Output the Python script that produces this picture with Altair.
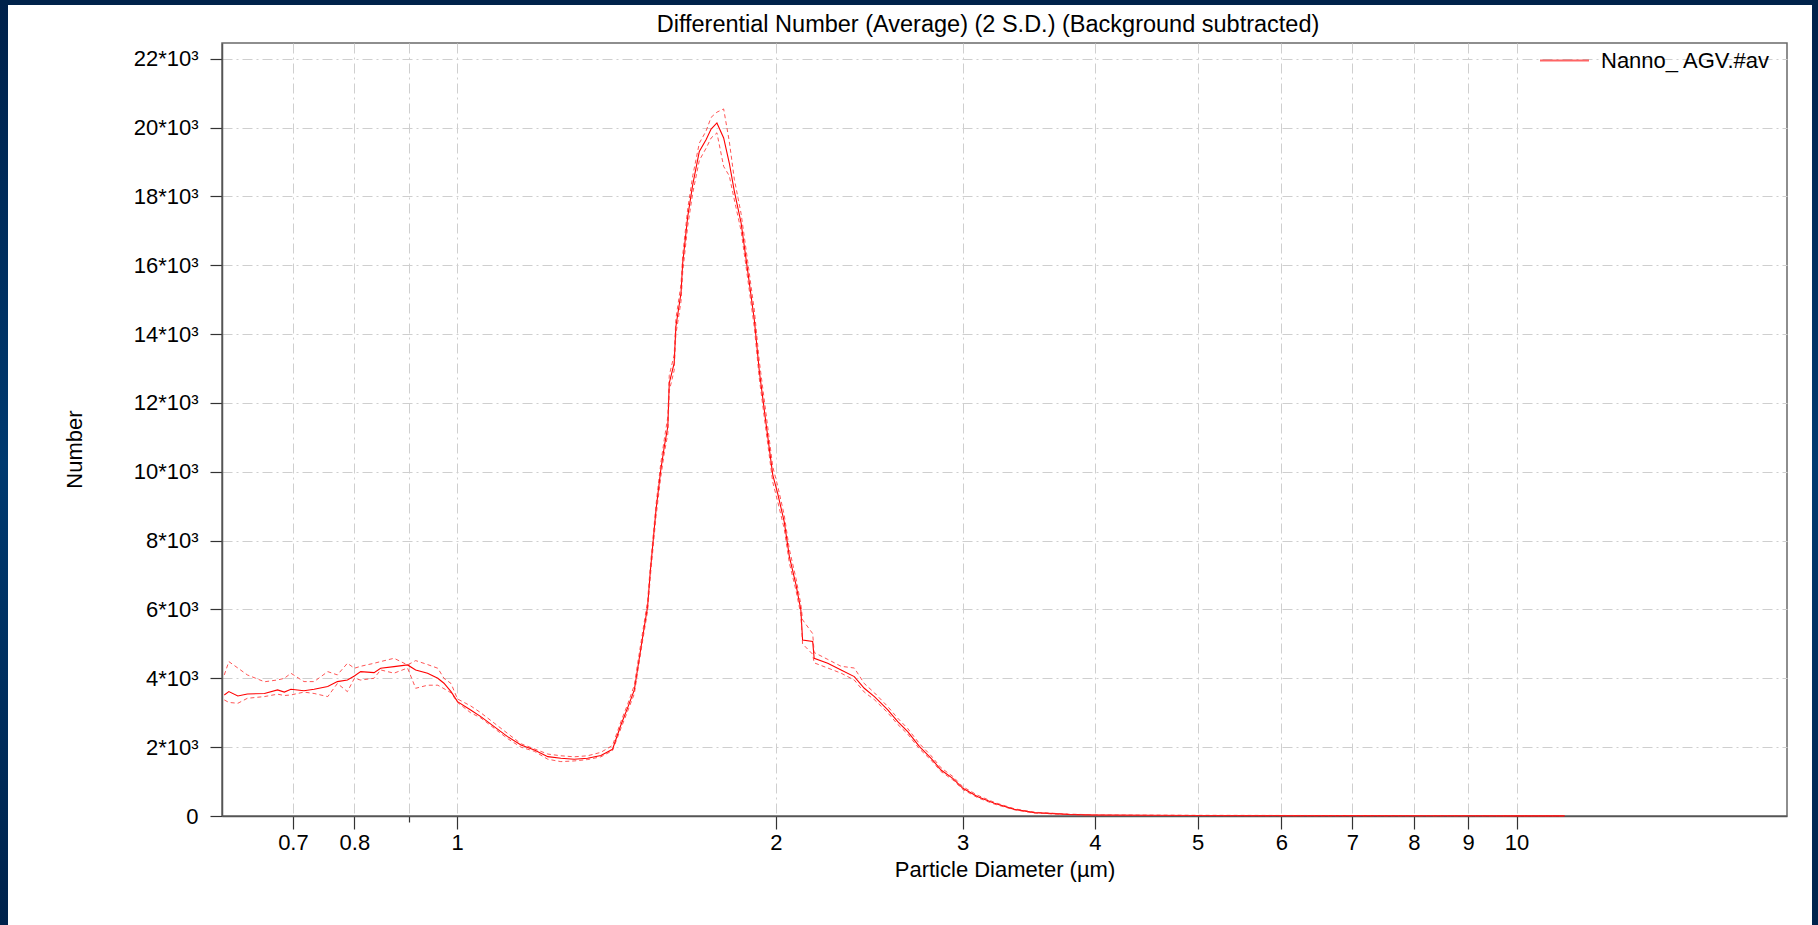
import altair as alt
import pandas as pd

# ---------------- data ----------------
diameter_um = [0.603, 0.609, 0.621, 0.634, 0.658, 0.677, 0.687, 0.697, 0.717, 0.733,
               0.755, 0.771, 0.788, 0.800, 0.811, 0.835, 0.847, 0.872, 0.898, 0.914,
               0.938, 0.959, 0.972, 0.987, 1.001, 1.030, 1.053, 1.084, 1.116, 1.149,
               1.183, 1.218, 1.253, 1.290, 1.328, 1.367, 1.402, 1.428, 1.449, 1.470,
               1.481, 1.497, 1.513, 1.522, 1.541, 1.557, 1.569, 1.581, 1.586, 1.603,
               1.609, 1.627, 1.633, 1.651, 1.669, 1.693, 1.718, 1.737, 1.759, 1.785,
               1.807, 1.827, 1.854, 1.881, 1.908, 1.929, 1.957, 1.986, 2.007, 2.036,
               2.059, 2.089, 2.111, 2.119, 2.166, 2.173, 2.238, 2.304, 2.371, 2.423,
               2.477, 2.550, 2.606, 2.663, 2.732, 2.802, 2.863, 2.937, 3.002, 3.101,
               3.215, 3.358, 3.508, 3.772, 3.997, 4.5, 5.0, 6.0, 7.0, 8.0,
               9.0, 10.0, 11.1]

number_avg = [3517, 3614, 3488, 3546, 3560, 3663, 3600, 3682, 3640, 3682,
              3760, 3905, 3953, 4070, 4195, 4166, 4293, 4341, 4390, 4244,
              4147, 4002, 3857, 3614, 3323, 3081, 2887, 2597, 2306, 2064,
              1919, 1725, 1676, 1647, 1680, 1760, 1938, 2650, 3150, 3663,
              4300, 5213, 6085, 7102, 8895, 10058, 10736, 11317, 12578, 13159,
              14224, 15195, 16066, 17422, 18343, 19311, 19651, 19961, 20136, 19700,
              18973, 18149, 17230, 15823, 14419, 12916, 11416, 9913, 9380, 8556,
              7539, 6715, 5988, 5116, 5068, 4583, 4438, 4244, 4050, 3711,
              3469, 3081, 2742, 2452, 2016, 1676, 1337, 1095, 804, 562,
              368, 193, 97, 48, 29, 20, 15, 12, 10, 8,
              6, 5, 4]

number_plus_2sd = [4099, 4486, 4300, 4099, 3900, 3953, 4000, 4147, 3905, 3905,
                   4195, 4100, 4438, 4293, 4350, 4438, 4486, 4583, 4390, 4515,
                   4400, 4293, 4000, 3850, 3400, 3200, 3000, 2700, 2400, 2100,
                   1950, 1800, 1750, 1720, 1750, 1850, 2050, 2750, 3250, 3800,
                   4450, 5350, 6250, 7250, 9050, 10250, 10950, 11600, 12800, 13400,
                   14450, 15450, 16300, 17650, 18600, 19550, 19900, 20300, 20450, 20544,
                   19600, 18500, 17500, 16100, 14700, 13200, 11700, 10150, 9600, 8750,
                   7750, 6900, 6150, 5700, 5300, 4750, 4550, 4350, 4300, 3850,
                   3580, 3180, 2840, 2540, 2100, 1750, 1400, 1150, 850, 600,
                   395, 210, 110, 55, 35, 25, 20, 16, 14, 12,
                   10, 8, 7]

number_minus_2sd = [3372, 3300, 3275, 3420, 3470, 3540, 3500, 3517, 3600, 3560,
                    3469, 3850, 3614, 4000, 3950, 4002, 4244, 4150, 4300, 3711,
                    3800, 3800, 3700, 3580, 3300, 3000, 2850, 2550, 2250, 2000,
                    1880, 1650, 1580, 1600, 1640, 1720, 1900, 2550, 3050, 3550,
                    4200, 5100, 5950, 6950, 8700, 9850, 10550, 11100, 12350, 12950,
                    14000, 14950, 15800, 17150, 18100, 19050, 19400, 19700, 19850, 18875,
                    18600, 17900, 17000, 15600, 14200, 12700, 11200, 9700, 9150, 8350,
                    7350, 6550, 5850, 5000, 4700, 4450, 4300, 4150, 3950, 3600,
                    3380, 3000, 2660, 2380, 1950, 1620, 1290, 1050, 770, 530,
                    345, 180, 85, 40, 24, 15, 11, 8, 7, 5,
                    4, 3, 2]

series_name = "Nanno_ AGV.#av"
chart_title = "Differential Number (Average) (2 S.D.) (Background subtracted)"
x_tick_values = [0.7, 0.8, 0.9, 1, 2, 3, 4, 5, 6, 7, 8, 9, 10]
y_tick_values = [0, 2000, 4000, 6000, 8000, 10000, 12000, 14000, 16000, 18000, 20000, 22000]

# ---------------- layout ----------------
FONT = "Liberation Sans"
FS = 22
W, H = 1565, 773          # plot area
L, T = 222, 43            # plot origin on the page
PAGE_W, PAGE_H = 1818, 925

df = pd.DataFrame({
    "d": diameter_um,
    "avg": number_avg,
    "hi": number_plus_2sd,
    "lo": number_minus_2sd,
    "series": [series_name] * len(diameter_um),
})

xscale = alt.Scale(type="log", domain=[0.6, 18], nice=False)
yscale = alt.Scale(domain=[0, 22460], nice=False)

x_axis = alt.Axis(
    values=x_tick_values,
    labelExpr="datum.value == 0.9 ? '' : datum.value + ''",
    tickSize={"condition": {"test": "datum.value == 0.9", "value": 6}, "value": 13},
    labelPadding=3,
    title="Particle Diameter (µm)",
    titleBaseline="alphabetic",
    titleY=60,
)
y_axis = alt.Axis(
    values=y_tick_values,
    labelExpr="datum.value == 0 ? '0' : (datum.value / 1000) + '*10³'",
    tickSize=12,
    labelPadding=12,
    title="Number",
    titleBaseline="alphabetic",
    titleAngle=270,
    titleX=-141,
    titleY=406,
)

avg_line = alt.Chart(df).mark_line(strokeWidth=1.1).encode(
    x=alt.X("d:Q", scale=xscale, axis=x_axis),
    y=alt.Y("avg:Q", scale=yscale, axis=y_axis),
    color=alt.Color(
        "series:N",
        scale=alt.Scale(domain=[series_name], range=["#ff0000"]),
        legend=alt.Legend(
            title=None, orient="none", legendX=1317, legendY=-8,
            symbolType="stroke", symbolSize=2401, symbolStrokeWidth=2,
            symbolOpacity=0.6, labelFont=FONT, labelFontSize=FS, labelColor="black",
            labelOffset=11, labelLimit=0, padding=0,
        ),
    ),
)

hi_line = alt.Chart(df).mark_line(color="#ff2a2a", strokeDash=[4, 3], strokeWidth=1, opacity=0.8).encode(
    x=alt.X("d:Q", title="Particle Diameter (µm)"),
    y=alt.Y("hi:Q", title="Number"),
)
lo_line = alt.Chart(df).mark_line(color="#ff2a2a", strokeDash=[4, 3], strokeWidth=1, opacity=0.8).encode(
    x=alt.X("d:Q", title="Particle Diameter (µm)"),
    y=alt.Y("lo:Q", title="Number"),
)

one = pd.DataFrame({"k": [0]})

title_text = alt.Chart(one).mark_text(
    text=chart_title, font=FONT, fontSize=23.5, color="black",
    align="center", baseline="alphabetic",
).encode(x=alt.value(988 - L), y=alt.value(32 - T))

edge_grad = alt.LinearGradient(
    gradient="linear",
    stops=[alt.GradientStop(color="#00214a", offset=0),
           alt.GradientStop(color="#003a70", offset=0.5),
           alt.GradientStop(color="#00234c", offset=1)],
    x1=0, x2=0, y1=0, y2=1,
)
left_band = alt.Chart(one).mark_rect(color=edge_grad).encode(
    x=alt.value(-L), x2=alt.value(-L + 8), y=alt.value(-T), y2=alt.value(PAGE_H - T))
right_band = alt.Chart(one).mark_rect(color=edge_grad).encode(
    x=alt.value(1812 - L), x2=alt.value(PAGE_W - L), y=alt.value(-T), y2=alt.value(PAGE_H - T))
top_band = alt.Chart(one).mark_rect(color="#00224a").encode(
    x=alt.value(-L), x2=alt.value(PAGE_W - L), y=alt.value(-T), y2=alt.value(-T + 5))

chart = alt.layer(avg_line, hi_line, lo_line, title_text, left_band, right_band, top_band).properties(
    width=W, height=H, padding=0, background="white",
).configure_view(
    stroke="#6a6a6a", strokeWidth=1.5,
).configure_axis(
    labelFont=FONT, labelFontSize=FS, labelColor="black",
    titleFont=FONT, titleFontSize=FS, titleFontWeight="normal", titleColor="black",
    domainColor="#555555", domainWidth=1.5,
    tickColor="#333333", tickWidth=1.2,
    grid=True, gridColor="#cfcfcf", gridDash=[10, 4, 2, 4], gridWidth=1,
)

chart.save("out.html", embed_options={"renderer": "svg", "actions": False})
